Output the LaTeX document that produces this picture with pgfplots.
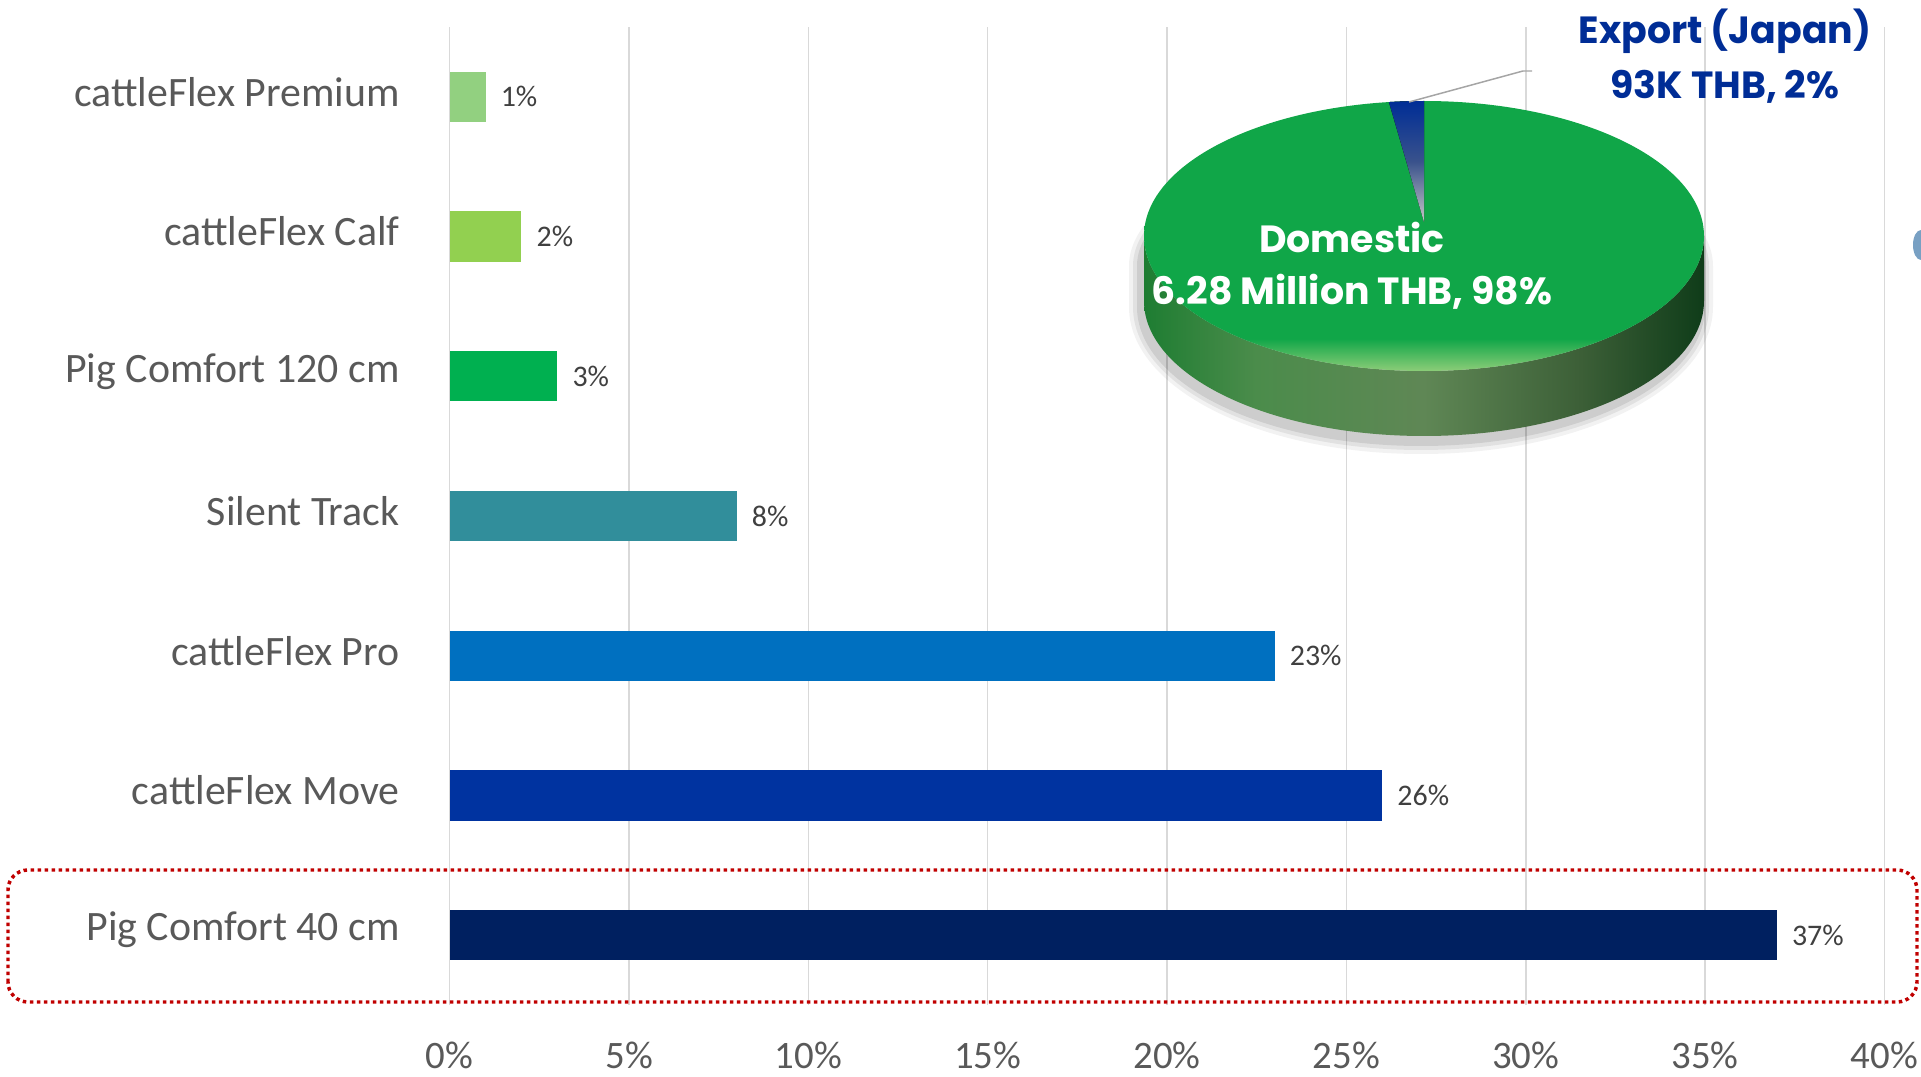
\documentclass[border=0pt]{standalone}
\usepackage{fontspec}
\setmainfont{Carlito}
\newfontfamily\popp{Poppins}
\usepackage{pgfplots}
\pgfplotsset{compat=1.18}

\definecolor{c1}{RGB}{146,208,128}
\definecolor{c2}{RGB}{146,208,80}
\definecolor{c3}{RGB}{0,176,80}
\definecolor{c4}{RGB}{49,142,155}
\definecolor{c5}{RGB}{0,112,192}
\definecolor{c6}{RGB}{0,51,160}
\definecolor{c7}{RGB}{0,32,96}
\definecolor{gridc}{RGB}{217,217,217}
\definecolor{labc}{RGB}{89,89,89}
\definecolor{valc}{RGB}{64,64,64}
\definecolor{boxred}{RGB}{192,0,0}
\definecolor{expblue}{RGB}{0,45,150}
\definecolor{piegreen}{RGB}{16,166,72}
\definecolor{pielight}{RGB}{140,205,120}
\definecolor{s1}{RGB}{30,125,50}
\definecolor{s2}{RGB}{75,140,75}
\definecolor{s3}{RGB}{95,135,85}
\definecolor{s4}{RGB}{60,95,55}
\definecolor{s5}{RGB}{15,60,25}
\definecolor{decoc}{RGB}{120,160,195}
\definecolor{leadc}{RGB}{165,165,165}

\pgfdeclareverticalshading{pietop}{100bp}{color(0bp)=(pielight); color(25bp)=(pielight); color(31bp)=(piegreen); color(100bp)=(piegreen)}
\pgfdeclarehorizontalshading{pieside}{100bp}{color(0bp)=(s1); color(25bp)=(s1); color(35bp)=(s2); color(50bp)=(s3); color(64bp)=(s4); color(75bp)=(s5); color(100bp)=(s5)}

\newcommand\catfont{\fontsize{42}{50}\selectfont}
\newcommand\tickfont{\fontsize{39}{46}\selectfont}
\newcommand\valfont{\fontsize{30}{36}\selectfont}
\newcommand\piefont{\popp\bfseries\fontsize{38}{46}\selectfont}

% pie data (share in %)
\def\domshare{98}
\def\expshare{2}

\begin{document}
\begin{tikzpicture}
\path[use as bounding box] (0bp,0bp) rectangle (1921bp,1077bp);
\begin{axis}[
  at={(449.7bp,72bp)}, anchor=south west,
  scale only axis, width=1434.8bp, height=978bp,
  xmin=0, xmax=40, ymin=-0.5, ymax=6.5,
  xbar, bar width=0.36, bar shift=0pt,
  xtick={0,5,...,40},
  xticklabels={0\%,5\%,10\%,15\%,20\%,25\%,30\%,35\%,40\%},
  ytick={0,1,2,3,4,5,6},
  yticklabels={Pig Comfort 40 cm, cattleFlex Move, cattleFlex Pro, Silent Track, Pig Comfort 120 cm, cattleFlex Calf, cattleFlex Premium},
  major tick length=0pt,
  axis line style={draw=none},
  xmajorgrids, grid style={gridc, line width=1.5bp},
  xticklabel style={font=\tickfont, text=labc, anchor=center, inner sep=0pt, yshift=-50bp},
  yticklabel style={font=\catfont, text=labc, anchor=east, inner sep=0pt, xshift=-50bp, yshift=5bp},
  /pgf/number format/assume math mode=true,
  point meta=x,
  nodes near coords={\pgfmathprintnumber{\pgfplotspointmeta}\%},
  nodes near coords style={anchor=west, font=\valfont, text=valc, inner sep=0pt, xshift=15bp},
  clip=false,
]
\addplot[fill=c1, draw=none] coordinates {(1,6)};
\addplot[fill=c2, draw=none] coordinates {(2,5)};
\addplot[fill=c3, draw=none] coordinates {(3,4)};
\addplot[fill=c4, draw=none] coordinates {(8,3)};
\addplot[fill=c5, draw=none] coordinates {(23,2)};
\addplot[fill=c6, draw=none] coordinates {(26,1)};
\addplot[fill=c7, draw=none] coordinates {(37,0)};
\end{axis}

\begin{scope}[x=1bp, y=1bp]
% highlight box
\draw[boxred, line width=3.5, dash pattern=on 3.5bp off 3.5bp, rounded corners=20] (8,75) rectangle (1917,207);

% small cut-off decoration on right edge
\fill[decoc] (1921,832) ellipse [x radius=8, y radius=15];

% 3D pie
\def\cx{1424}\def\cy{841}\def\rx{280}\def\ry{135}\def\dd{65}
\pgfmathsetmacro\ang{360*\expshare/(\domshare+\expshare)}
\foreach \s/\o in {12/0.05, 8/0.07, 4/0.09}{
  \fill[black, opacity=\o] (\cx-\rx-\s-3, \cy-30) arc[start angle=180, end angle=0, x radius=\rx+\s, y radius=\ry+\s-20]
     -- (\cx+\rx+\s-3, \cy-\dd-6) arc[start angle=0, end angle=-180, x radius=\rx+\s, y radius=\ry+\s] -- cycle;
}
\path[shading=pieside] (\cx-\rx,\cy) -- (\cx-\rx,\cy-\dd)
   arc[start angle=180, end angle=360, x radius=\rx, y radius=\ry]
   -- (\cx+\rx,\cy) arc[start angle=0, end angle=-180, x radius=\rx, y radius=\ry] -- cycle;
\path[shading=pietop] (\cx,\cy) ellipse [x radius=\rx, y radius=\ry];
\fill[top color=expblue, bottom color=gray!45, middle color=expblue!55!gray] (\cx,\cy+14) -- (\cx,\cy+\ry)
   arc[start angle=90, end angle=90+\ang, x radius=\rx, y radius=\ry] -- cycle;

% leader line
\draw[leadc, line width=1.5] (1409,975) -- (1523,1006) -- (1532,1006);

% pie labels
\node[text=white, font=\piefont] at (1352,840) {Domestic};
\node[text=white, font=\piefont] at (1352,785) {6.28 Million THB, 98\%};
\node[text=expblue, font=\piefont] at (1725,1046) {Export (Japan)};
\node[text=expblue, font=\piefont] at (1725,990) {93K THB, 2\%};
\end{scope}
\end{tikzpicture}
\end{document}
